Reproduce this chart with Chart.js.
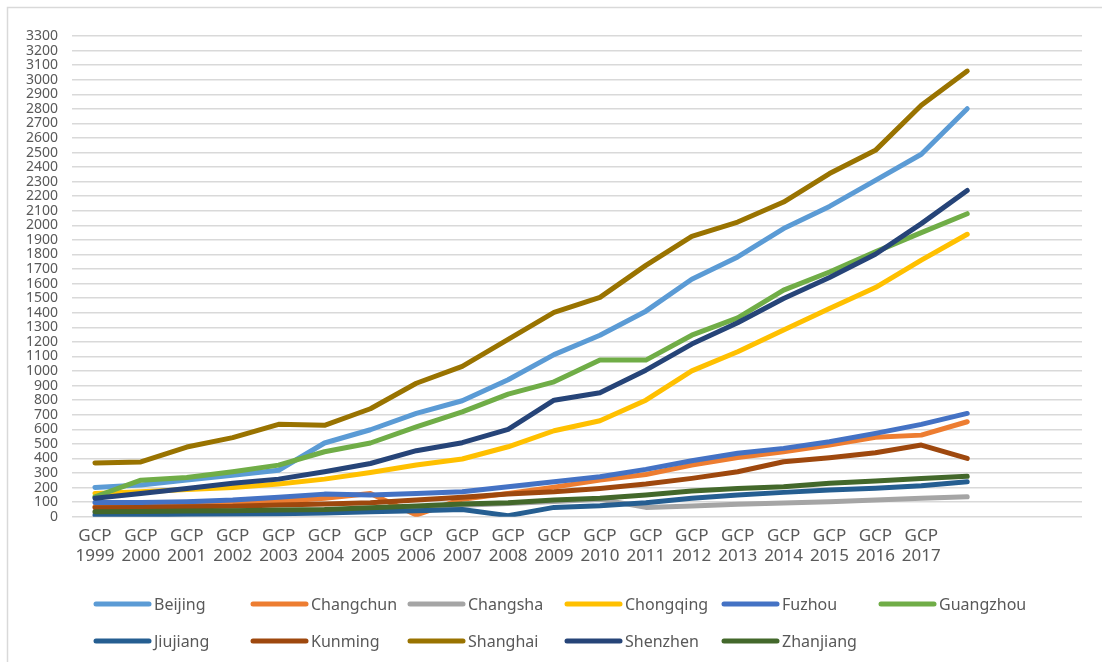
<!DOCTYPE html>
<html>
<head>
<meta charset="utf-8">
<script src="https://cdn.jsdelivr.net/npm/chart.js@4/dist/chart.umd.min.js"></script>
<style>
  html, body { margin: 0; padding: 0; background: #ffffff; }
  #wrap { width: 1102px; height: 662px; position: relative; }
</style>
</head>
<body>
<div id="wrap"><canvas id="chart" width="1102" height="662"></canvas></div>
<script>
// Category labels (two lines each); the trailing empty slots leave room on the right
const years = ['1999','2000','2001','2002','2003','2004','2005','2006','2007','2008',
               '2009','2010','2011','2012','2013','2014','2015','2016','2017'];
const categories = years.map(y => ['GCP', y]).concat([[''], [''], ['']]);

const cities = ['Beijing','Changchun','Changsha','Chongqing','Fuzhou','Guangzhou',
                'Jiujiang','Kunming','Shanghai','Shenzhen','Zhanjiang'];

const beijing   = [201, 217, 251, 285, 319, 506, 597, 709, 796, 940, 1113, 1246, 1411, 1630, 1783, 1978, 2130, 2309, 2488, 2801];
const changchun = [70, 75, 80, 88, 105, 126, 160, 12, 120, 160, 203, 251, 290, 354, 407, 446, 492, 545, 560, 652];
const changsha  = [25, 28, 30, 33, 38, 45, 55, 65, 78, 90, 105, 120, 64, 73, 85, 94, 103, 114, 126, 137];
const chongqing = [160, 171, 187, 201, 224, 258, 303, 355, 396, 480, 590, 659, 800, 1001, 1132, 1281, 1429, 1573, 1761, 1939];
const fuzhou    = [98, 98, 103, 114, 133, 155, 149, 160, 171, 206, 240, 274, 325, 384, 435, 469, 514, 572, 634, 709];
const guangzhou = [137, 251, 269, 308, 354, 446, 506, 617, 720, 841, 926, 1075, 1075, 1246, 1365, 1555, 1680, 1818, 1950, 2080];
const jiujiang  = [12, 14, 16, 18, 20, 25, 34, 41, 50, 7, 64, 75, 96, 126, 149, 167, 183, 195, 213, 240];
const kunming   = [62, 64, 69, 71, 80, 87, 96, 114, 133, 156, 171, 194, 224, 263, 309, 377, 405, 439, 492, 400];
const shanghai  = [369, 376, 478, 543, 634, 627, 741, 916, 1032, 1217, 1403, 1506, 1725, 1925, 2023, 2160, 2356, 2515, 2824, 3059];
const shenzhen  = [126, 160, 194, 229, 258, 308, 365, 453, 508, 600, 800, 851, 1006, 1185, 1331, 1498, 1642, 1802, 2012, 2240];
const zhanjiang = [34, 36, 39, 41, 46, 50, 62, 73, 87, 96, 114, 126, 149, 176, 194, 206, 229, 245, 263, 277];

const seriesValues = [beijing, changchun, changsha, chongqing, fuzhou, guangzhou,
                      jiujiang, kunming, shanghai, shenzhen, zhanjiang];

const colors = ['#5B9BD5','#ED7D31','#A5A5A5','#FFC000','#4472C4','#70AD47',
                '#255E91','#9E480E','#997300','#264478','#43682B'];

const TEXT = '#595959';
const FONT = '"Noto Sans", "DejaVu Sans", sans-serif';

// Later series are painted over earlier ones
const datasets = cities.map((name, i) => ({
  label: name,
  data: seriesValues[i],
  borderColor: colors[i],
  backgroundColor: colors[i],
  borderWidth: 5,
  borderCapStyle: 'round',
  borderJoinStyle: 'round',
  pointRadius: 0,
  pointHoverRadius: 0,
  tension: 0,
  fill: false,
  order: cities.length - 1 - i
}));

// Outer frame of the chart box
const framePlugin = {
  id: 'frame',
  beforeDraw(chart) {
    const ctx = chart.ctx;
    ctx.save();
    ctx.fillStyle = '#ffffff';
    ctx.fillRect(0, 0, chart.width, chart.height);
    ctx.strokeStyle = '#D9D9D9';
    ctx.lineWidth = 1.5;
    ctx.strokeRect(7.5, 7.5, chart.width + 20, chart.height + 20);
    ctx.restore();
  }
};

// Two-row legend laid out on evenly spaced columns
const gridLegend = {
  id: 'gridLegend',
  afterDraw(chart) {
    const ctx = chart.ctx;
    const firstCol = 94, colStep = 157, perRow = 6;
    const rows = [604, 641];
    ctx.save();
    ctx.font = '16px ' + FONT;
    ctx.textBaseline = 'middle';
    ctx.textAlign = 'left';
    chart.data.datasets.forEach((ds, i) => {
      const x = firstCol + colStep * (i % perRow);
      const y = rows[Math.floor(i / perRow)];
      ctx.strokeStyle = ds.borderColor;
      ctx.lineWidth = 5;
      ctx.lineCap = 'round';
      ctx.beginPath();
      ctx.moveTo(x + 2, y);
      ctx.lineTo(x + 55, y);
      ctx.stroke();
      ctx.fillStyle = TEXT;
      ctx.fillText(ds.label, x + 60, y + 1);
    });
    ctx.restore();
  }
};

new Chart(document.getElementById('chart'), {
  type: 'line',
  data: { labels: categories, datasets },
  options: {
    responsive: false,
    animation: false,
    events: [],
    layout: { padding: { top: 36, right: 20, bottom: 0, left: 0 } },
    plugins: {
      legend: { display: false },
      tooltip: { enabled: false }
    },
    scales: {
      x: {
        offset: true,
        grid: { display: false, drawTicks: false },
        border: { display: false },
        ticks: {
          autoSkip: false,
          maxRotation: 0,
          minRotation: 0,
          padding: 10,
          color: TEXT,
          font: { family: FONT, size: 17, lineHeight: 1.15 }
        },
        afterFit(scale) { scale.height = 145.3; }
      },
      y: {
        min: 0,
        max: 3300,
        grid: { color: '#D9D9D9', lineWidth: 1.5, drawTicks: false },
        border: { display: false },
        ticks: {
          stepSize: 100,
          autoSkip: false,
          padding: 14,
          color: TEXT,
          font: { family: FONT, size: 14 },
          callback: (value) => String(value)
        },
        afterFit(scale) { scale.width = 72; }
      }
    }
  },
  plugins: [framePlugin, gridLegend]
});
</script>
</body>
</html>
